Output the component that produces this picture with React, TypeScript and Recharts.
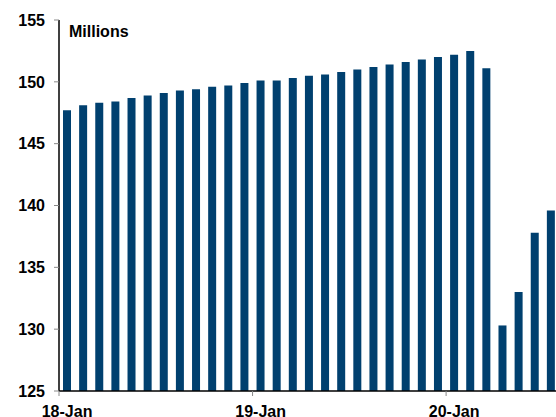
import { BarChart, Bar, XAxis, YAxis } from 'recharts';

// Employment, millions, monthly Jan 2018 - Jul 2020
const months = [
  'Jan-18', 'Feb-18', 'Mar-18', 'Apr-18', 'May-18', 'Jun-18', 'Jul-18', 'Aug-18', 'Sep-18', 'Oct-18', 'Nov-18', 'Dec-18',
  'Jan-19', 'Feb-19', 'Mar-19', 'Apr-19', 'May-19', 'Jun-19', 'Jul-19', 'Aug-19', 'Sep-19', 'Oct-19', 'Nov-19', 'Dec-19',
  'Jan-20', 'Feb-20', 'Mar-20', 'Apr-20', 'May-20', 'Jun-20', 'Jul-20',
];
const values = [
  147.7, 148.1, 148.3, 148.4, 148.7, 148.9, 149.1, 149.3, 149.4, 149.6, 149.7, 149.9,
  150.1, 150.1, 150.3, 150.5, 150.6, 150.8, 151.0, 151.2, 151.4, 151.6, 151.8, 152.0,
  152.2, 152.5, 151.1, 130.3, 133.0, 137.8, 139.6,
];
const yTicks = [125, 130, 135, 140, 145, 150, 155];
const xTickPositions = [0, 12, 24];
const xTickLabels = ['18-Jan', '19-Jan', '20-Jan'];

const CHART_W = 559;
const CHART_H = 417;
const Y_W = 59;
const FONT = '"Liberation Sans", Arial, sans-serif';
const BAR_COLOR = '#00406F';

const data = months.map((m, i) => ({ month: m, pos: i + 0.5, value: values[i] }));
// labels sit under the first bar of each year, tick marks on the boundaries
const step = (CHART_W - Y_W) / months.length;

const XTick = (props: any) => {
  const { x, y, payload } = props;
  const idx = xTickPositions.indexOf(payload.value);
  return (
    <text x={x + step / 2} y={y} dy="0.71em" textAnchor="middle" fontFamily={FONT} fontWeight="bold" fontSize={16} fill="#000">
      {xTickLabels[idx]}
    </text>
  );
};

export default function App() {
  return (
    <div style={{ position: 'absolute', left: 0, top: 0, width: 556, height: CHART_H, overflow: 'hidden', background: '#fff' }}>
      <BarChart width={CHART_W} height={CHART_H} data={data} margin={{ top: 20, right: 0, bottom: 0, left: 0 }}>
        <XAxis
          dataKey="pos"
          type="number"
          domain={[0, months.length]}
          ticks={xTickPositions}
          interval={0}
          height={26}
          axisLine={{ stroke: '#000', strokeWidth: 1.5 }}
          tickLine={{ stroke: '#888' }}
          tickSize={5}
          tickMargin={10}
          tick={<XTick />}
        />
        <YAxis
          domain={[125, 155]}
          ticks={yTicks}
          width={Y_W}
          interval={0}
          axisLine={{ stroke: '#000', strokeWidth: 1.5 }}
          tickLine={{ stroke: '#888' }}
          tickSize={5}
          tickMargin={9}
          tick={{ fill: '#000', fontFamily: FONT, fontWeight: 'bold', fontSize: 16 }}
        />
        <Bar dataKey="value" fill={BAR_COLOR} barSize={8} isAnimationActive={false} />
      </BarChart>
      <div style={{ position: 'absolute', left: 69, top: 23, fontFamily: FONT, fontWeight: 'bold', fontSize: 16, color: '#000' }}>
        Millions
      </div>
    </div>
  );
}
